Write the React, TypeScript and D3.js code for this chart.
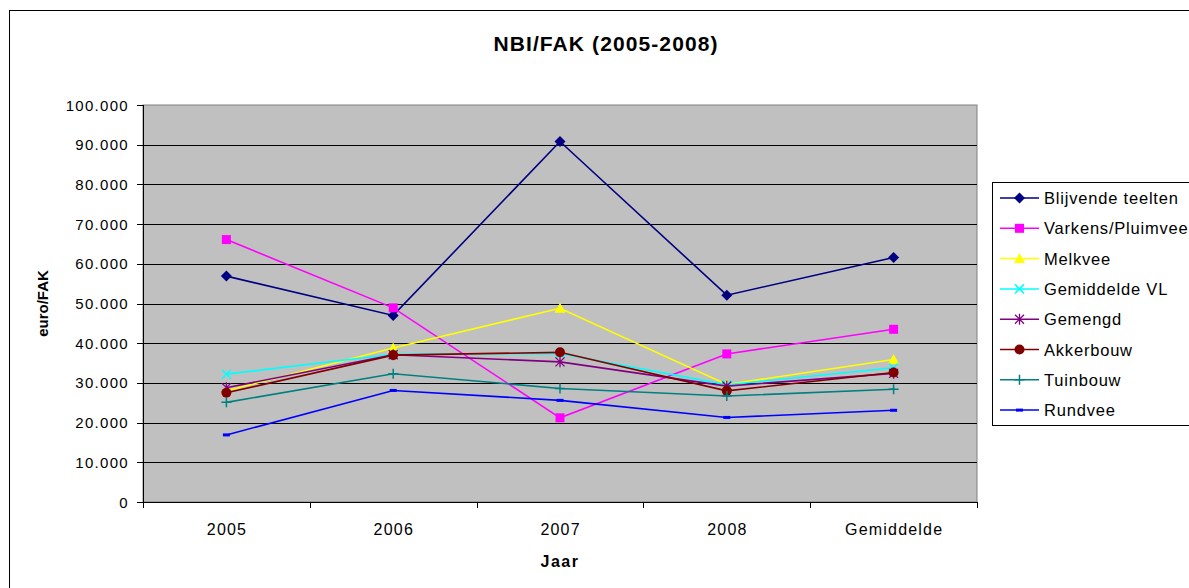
import * as d3 from "d3";

const categories = ["2005", "2006", "2007", "2008", "Gemiddelde"];

const blijvendeTeelten = [56900, 47000, 90800, 52100, 61600];
const varkensPluimvee = [66100, 48900, 21200, 37300, 43500];
const melkvee = [28000, 38800, 48800, 29600, 35900];
const gemiddeldeVL = [32200, 37200, 37400, 29500, 33800];
const gemengd = [28800, 37100, 35300, 29200, 32400];
const akkerbouw = [27500, 37000, 37700, 28000, 32600];
const tuinbouw = [25100, 32300, 28600, 26700, 28400];
const rundvee = [16900, 28100, 25600, 21300, 23100];

const yTicks = [0, 10000, 20000, 30000, 40000, 50000, 60000, 70000, 80000, 90000, 100000];

type MarkerKind = "diamond" | "square" | "triangle" | "cross" | "star" | "circle" | "plus" | "dash";

type Series = {
  name: string;
  values: number[];
  color: string;
  marker: MarkerKind;
};

const series: Series[] = [
  { name: "Blijvende teelten", values: blijvendeTeelten, color: "#000080", marker: "diamond" },
  { name: "Varkens/Pluimvee", values: varkensPluimvee, color: "#FF00FF", marker: "square" },
  { name: "Melkvee", values: melkvee, color: "#FFFF00", marker: "triangle" },
  { name: "Gemiddelde VL", values: gemiddeldeVL, color: "#00FFFF", marker: "cross" },
  { name: "Gemengd", values: gemengd, color: "#800080", marker: "star" },
  { name: "Akkerbouw", values: akkerbouw, color: "#800000", marker: "circle" },
  { name: "Tuinbouw", values: tuinbouw, color: "#008080", marker: "plus" },
  { name: "Rundvee", values: rundvee, color: "#0000FF", marker: "dash" },
];

const nlFormat = d3
  .formatLocale({ decimal: ",", thousands: ".", grouping: [3], currency: ["€", ""] })
  .format(",");

function Marker({ kind, x, y, color }: { kind: MarkerKind; x: number; y: number; color: string }) {
  switch (kind) {
    case "diamond":
      return <path d={`M${x},${y - 5.5}L${x + 5.5},${y}L${x},${y + 5.5}L${x - 5.5},${y}Z`} fill={color} />;
    case "square":
      return <rect x={x - 4.5} y={y - 4.5} width={9} height={9} fill={color} />;
    case "triangle":
      return <path d={`M${x},${y - 5.5}L${x + 5.5},${y + 4.5}L${x - 5.5},${y + 4.5}Z`} fill={color} />;
    case "cross":
      return (
        <path
          d={`M${x - 4.5},${y - 4.5}L${x + 4.5},${y + 4.5}M${x - 4.5},${y + 4.5}L${x + 4.5},${y - 4.5}`}
          stroke={color}
          strokeWidth={1.5}
        />
      );
    case "star":
      return (
        <path
          d={`M${x - 4.5},${y - 4.5}L${x + 4.5},${y + 4.5}M${x - 4.5},${y + 4.5}L${x + 4.5},${y - 4.5}M${x},${y - 5.5}L${x},${y + 5.5}`}
          stroke={color}
          strokeWidth={1.3}
        />
      );
    case "circle":
      return <circle cx={x} cy={y} r={5} fill={color} />;
    case "plus":
      return (
        <path d={`M${x - 5},${y}L${x + 5},${y}M${x},${y - 5}L${x},${y + 5}`} stroke={color} strokeWidth={1.5} />
      );
    case "dash":
      return <rect x={x - 3.5} y={y - 1.5} width={7} height={3} fill={color} />;
  }
}

export default function App() {
  const width = 1189;
  const height = 588;
  const left = 143;
  const right = 977;
  const top = 105;
  const bottom = 502;

  const x = d3.scalePoint<string>().domain(categories).range([left, right]).padding(0.5);
  const band = d3.scaleBand<string>().domain(categories).range([left, right]);
  const y = d3.scaleLinear().domain([0, 100000]).range([bottom, top]);

  const line = d3
    .line<number>()
    .x((_, i) => x(categories[i]) ?? 0)
    .y((v) => y(v));

  const boundaries = [...categories.map((c) => band(c) ?? 0), right];

  const legendX = 992;
  const legendY = 182;
  const legendRowY = (i: number) => 198 + i * 30.3;

  const font = "'Liberation Sans', Arial, sans-serif";

  return (
    <svg
      width={width}
      height={height}
      style={{ position: "absolute", left: 0, top: 0, background: "#fff" }}
      fontFamily={font}
    >
      <rect x={9.5} y={10.5} width={1200} height={600} fill="#fff" stroke="#000" strokeWidth={1} />

      <text x={606} y={51} textAnchor="middle" fontSize={21} fontWeight="bold" letterSpacing={1.1}>
        NBI/FAK (2005-2008)
      </text>

      <rect x={left} y={top} width={right - left} height={bottom - top} fill="#C0C0C0" stroke="#808080" />

      {yTicks
        .filter((t) => t > 0 && t < 100000)
        .map((t) => (
          <line key={t} x1={left} x2={right} y1={Math.round(y(t)) + 0.5} y2={Math.round(y(t)) + 0.5} stroke="#000" />
        ))}

      <line x1={left + 0.5} x2={left + 0.5} y1={top} y2={bottom} stroke="#000" />
      <line x1={left} x2={right} y1={bottom + 0.5} y2={bottom + 0.5} stroke="#000" />

      {yTicks.map((t) => (
        <g key={t}>
          <line x1={137} x2={left} y1={Math.round(y(t)) + 0.5} y2={Math.round(y(t)) + 0.5} stroke="#000" />
          <text x={129} y={y(t) + 5.5} textAnchor="end" fontSize={15} letterSpacing={1.3}>
            {nlFormat(t)}
          </text>
        </g>
      ))}

      {boundaries.map((b, i) => (
        <line key={i} x1={Math.round(b) + 0.5} x2={Math.round(b) + 0.5} y1={bottom} y2={bottom + 6} stroke="#000" />
      ))}

      {categories.map((c) => (
        <text key={c} x={(x(c) ?? 0) + 0.6} y={535} textAnchor="middle" fontSize={16} letterSpacing={1.2}>
          {c}
        </text>
      ))}

      <text x={560} y={567} textAnchor="middle" fontSize={16} fontWeight="bold" letterSpacing={1.5}>
        Jaar
      </text>

      <text
        transform={`translate(48,${(top + bottom) / 2}) rotate(-90)`}
        textAnchor="middle"
        fontSize={15}
        fontWeight="bold"
      >
        euro/FAK
      </text>

      {series.map((s) => (
        <g key={s.name}>
          <path d={line(s.values) ?? ""} fill="none" stroke={s.color} strokeWidth={1.6} />
          {s.values.map((v, i) => (
            <Marker key={i} kind={s.marker} x={x(categories[i]) ?? 0} y={y(v)} color={s.color} />
          ))}
        </g>
      ))}

      <rect x={legendX + 0.5} y={legendY + 0.5} width={220} height={243} fill="#fff" stroke="#000" />
      {series.map((s, i) => (
        <g key={s.name}>
          <line x1={1000} x2={1039} y1={legendRowY(i)} y2={legendRowY(i)} stroke={s.color} strokeWidth={1.5} />
          <Marker kind={s.marker} x={1019.5} y={legendRowY(i)} color={s.color} />
          <text x={1044} y={legendRowY(i) + 6} fontSize={16.5} letterSpacing={0.8}>
            {s.name}
          </text>
        </g>
      ))}
    </svg>
  );
}
